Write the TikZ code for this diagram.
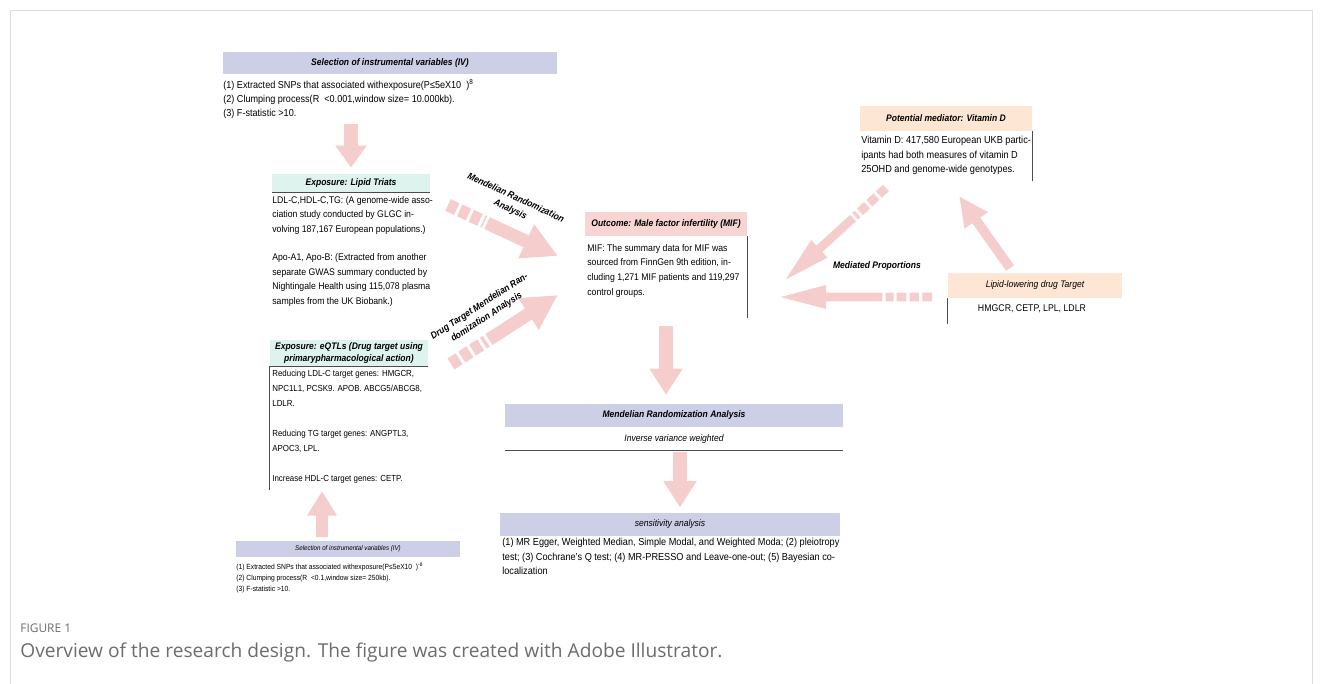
\documentclass[tikz,border=0pt]{standalone}
\usepackage{fontspec}
\setmainfont{Liberation Sans}[FakeStretch=0.9]
\newfontfamily\capfont{Open Sans}
\usetikzlibrary{arrows.meta, positioning, calc}

\definecolor{ivblue}{RGB}{204,207,229}
\definecolor{mintgreen}{RGB}{222,243,238}
\definecolor{outrose}{RGB}{246,213,211}
\definecolor{medpeach}{RGB}{253,230,212}
\definecolor{arrowpink}{RGB}{246,205,205}
\definecolor{framegray}{RGB}{222,222,222}
\definecolor{capgray}{RGB}{108,108,108}

\newcommand{\fsz}[2]{\fontsize{#1}{#2}\selectfont}

\tikzset{
  hdr/.style={inner sep=0pt, align=center, font=\fsz{5.4}{6.6}\bfseries\itshape},
  txt/.style={inner sep=0pt, align=left, anchor=north west},
  rule/.style={draw=black!70, line width=0.5pt},
  fatarrow/.style={draw=arrowpink, line width=#1},
  blocktail/.style={draw=arrowpink, line width=#1, dash pattern=on 5.5pt off 1.8pt},
  armlabel/.style={align=center, inner sep=0pt, font=\fsz{5.4}{7.4}\bfseries\itshape},
}

\begin{document}
\begin{tikzpicture}[x=0.02cm, y=-0.02cm]
\useasboundingbox (0,0) rectangle (1322,683);
\draw[framegray] (10,690) -- (10,10) -- (1312,10) -- (1312,690);

% instrumental variables (top)
\node[hdr, fill=ivblue, minimum width=6.68cm, minimum height=0.44cm] (ivtop) at (390,63) {Selection of instrumental variables (IV)};
\node[txt, font=\fsz{5.75}{7.9}] (ivtoptext) at (223,79) {(1) Extracted SNPs that associated withexposure(P≤5eX10\ \ )\textsuperscript{8}\\(2) Clumping process(R\ \ <0.001,window size= 10.000kb).\\(3) F-statistic >10.};

% exposure: lipid traits
\node[hdr, fill=mintgreen, minimum width=3.16cm, minimum height=0.36cm] (lipid) at (351,183) {Exposure: Lipid Triats};
\draw[rule] (lipid.south west) -- (lipid.south east);
\node[txt, font=\fsz{5.5}{8.2}] (lipidtext) at (272,196) {LDL-C,HDL-C,TG: (A genome-wide asso-\\ciation study conducted by GLGC in-\\volving 187,167 European populations.)\\[8.2pt]Apo-A1, Apo-B: (Extracted from another\\separate GWAS summary conducted by\\Nightingale Health using 115,078 plasma\\samples from the UK Biobank.)};

% exposure: eQTLs
\node[hdr, fill=mintgreen, minimum width=3.16cm, minimum height=0.52cm] (eqtl) at (349,353) {Exposure: eQTLs (Drug target using\\primarypharmacological action)};
\draw[rule] (eqtl.south west) -- (eqtl.south east);
\draw[rule] (eqtl.south west) -- ++(0,124);
\node[txt, font=\fsz{5.0}{8.5}] (eqtltext) at (272,370) {Reducing LDL-C target genes: HMGCR,\\NPC1L1, PCSK9. APOB. ABCG5/ABCG8,\\LDLR.\\[8.5pt]Reducing TG target genes: ANGPTL3,\\APOC3, LPL.\\[8.5pt]Increase HDL-C target genes: CETP.};

% instrumental variables (bottom)
\node[hdr, fill=ivblue, minimum width=4.48cm, minimum height=0.32cm, font=\fsz{3.9}{4.8}\itshape] (ivbot) at (348,549) {Selection of instrumental variables (IV)};
\node[txt, font=\fsz{4.25}{6.3}] (ivbottext) at (236,562) {(1) Extracted SNPs that associated withexposure(P≤5eX10\ \ )\textsuperscript{-8}\\(2) Clumping process(R\ \ <0.1,window size= 250kb).\\(3) F-statistic >10.};

% outcome
\node[hdr, fill=outrose, minimum width=3.26cm, minimum height=0.48cm] (outcome) at (666,224) {Outcome: Male factor infertility (MIF)};
\draw[rule] (outcome.south east) -- ++(0,82);
\node[txt, font=\fsz{5.5}{8.3}] (outcometext) at (587,244) {MIF: The summary data for MIF was\\sourced from FinnGen 9th edition, in-\\cluding 1,271 MIF patients and 119,297\\control groups.};

% MR analysis
\node[hdr, fill=ivblue, minimum width=6.76cm, minimum height=0.46cm] (mra) at (674,415.5) {Mendelian Randomization Analysis};
\node[inner sep=0pt, minimum width=6.76cm, minimum height=0.44cm, anchor=north, font=\fsz{5.4}{6.6}\itshape] (ivw) at (mra.south) {Inverse variance weighted};
\draw[rule] (ivw.south west) -- (ivw.south east);

% sensitivity
\node[hdr, fill=ivblue, minimum width=6.8cm, minimum height=0.46cm, font=\fsz{5.4}{6.6}\itshape] (sens) at (670,524.5) {sensitivity analysis};
\node[txt, font=\fsz{5.8}{8.2}] (senstext) at (502,538) {(1) MR Egger, Weighted Median, Simple Modal, and Weighted Moda; (2) pleiotropy\\test; (3) Cochrane's Q test; (4) MR-PRESSO and Leave-one-out; (5) Bayesian co-\\localization};

% mediator
\node[hdr, fill=medpeach, minimum width=3.44cm, minimum height=0.5cm] (vitd) at (946,118.5) {Potential mediator: Vitamin D};
\draw[rule] (vitd.south east) -- ++(0,50);
\node[txt, font=\fsz{5.8}{8.2}] (vitdtext) at (861,136) {Vitamin D: 417,580 European UKB partic-\\ipants had both measures of vitamin D\\25OHD and genome-wide genotypes.};

% drug target
\node[hdr, fill=medpeach, minimum width=3.5cm, minimum height=0.5cm, font=\fsz{5.4}{6.6}\itshape] (drug) at (1035,285.5) {Lipid-lowering drug Target};
\draw[rule] (drug.south west) -- ++(0,26);
\node[inner sep=0pt, anchor=north, font=\fsz{5.55}{6.8}] (drugtext) at (1032,304) {HMGCR, CETP, LPL, LDLR};

% arrows
\coordinate (a1s) at (351,124);
\draw[fatarrow=8pt, -{Triangle[width=17pt,length=12.5pt]}, shorten >=3.4pt] (a1s) -- (lipid.north);
\coordinate (a2s) at (322,537);
\coordinate (a2e) at (322,491);
\draw[fatarrow=7pt, -{Triangle[width=16pt,length=14pt]}] (a2s) -- (a2e);

\coordinate (mrtail) at (448,205);
\coordinate (mrtip) at (558,256);
\draw[blocktail=7.4pt] (mrtail) -- ($(mrtail)!0.33!(mrtip)$);
\draw[fatarrow=7.4pt, -{Triangle[width=20pt,length=20pt]}] ($(mrtail)!0.355!(mrtip)$) -- (mrtip);
\node[armlabel, rotate=-25] (mrlab) at (513,204) {Mendelian Randomization\\Analysis};

\coordinate (dttail) at (451,364);
\coordinate (dttip) at (558,295);
\draw[blocktail=7.4pt] (dttail) -- ($(dttail)!0.33!(dttip)$);
\draw[fatarrow=7.4pt, -{Triangle[width=20pt,length=20pt]}] ($(dttail)!0.355!(dttip)$) -- (dttip);
\node[armlabel, rotate=33] (dtlab) at (483,312) {Drug Target Mendelian Ran-\\domization Analysis};

\coordinate (vdtail) at (886,188);
\coordinate (vdtip) at (783,282);
\draw[blocktail=5pt] (vdtail) -- ($(vdtail)!0.3!(vdtip)$);
\draw[fatarrow=5pt, -{Triangle[width=12pt,length=28pt]}] ($(vdtail)!0.32!(vdtip)$) -- (vdtip);

\coordinate (dotail) at (932,297);
\coordinate (dotip) at (777,297);
\draw[blocktail=5pt] (dotail) -- ($(dotail)!0.3!(dotip)$);
\draw[fatarrow=5pt, -{Triangle[width=12pt,length=28pt]}] ($(dotail)!0.32!(dotip)$) -- (dotip);
\node[armlabel] (medlab) at (877,266) {Mediated Proportions};

\coordinate (dvs) at (1010,268);
\coordinate (dve) at (959,196);
\draw[fatarrow=5.5pt, -{Triangle[width=15pt,length=17pt]}] (dvs) -- (dve);

\coordinate (o2ms) at (666,326);
\draw[fatarrow=8pt, -{Triangle[width=18pt,length=15pt]}, shorten >=5pt] (o2ms) -- (mra.north -| o2ms);
\coordinate (m2ss) at (680,452);
\draw[fatarrow=8pt, -{Triangle[width=18pt,length=15pt]}, shorten >=3pt] (m2ss) -- (sens.north -| m2ss);

% caption
\node[anchor=west, inner sep=0pt, font=\capfont\fsz{6.8}{8}, text=capgray] (figno) at (20,628) {FIGURE 1};
\node[anchor=west, inner sep=0pt, font=\capfont\fsz{10.9}{12.5}, text=capgray] (figcap) at (20,652) {Overview of the research design. The figure was created with Adobe Illustrator.};
\end{tikzpicture}
\end{document}
